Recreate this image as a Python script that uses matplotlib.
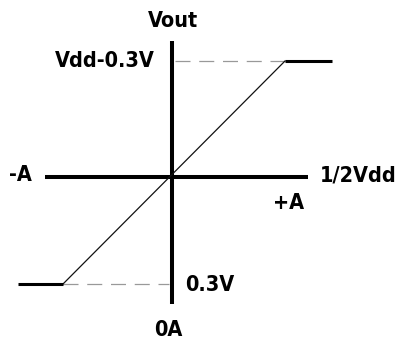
import matplotlib
matplotlib.use("Agg")
import matplotlib.pyplot as plt

# transfer curve (pixels from the origin, y up)
curve_in = [-154, -109, 113, 160]
curve_out = [-107, -107, 116, 116]

# axis extents
h_axis = [-127, 136]
v_axis = [-127, 136]

# labels: text, x, y, ha
labels = [
    ("Vout", 1, 156, "center"),
    ("Vdd-0.3V", -17, 116, "right"),
    ("-A", -140, 2, "right"),
    ("1/2Vdd", 148, 2, "left"),
    ("+A", 117, -26, "center"),
    ("0.3V", 13, -108, "left"),
    ("0A", -4, -153, "center"),
]

fig = plt.figure(figsize=(3.99, 3.42), dpi=100)
ax = fig.add_axes([0, 0, 1, 1])
ax.set_xlim(-172, 227)
ax.set_ylim(-165, 177)
ax.axis("off")

# axes
ax.plot(h_axis, [0, 0], color="black", lw=2.9, solid_capstyle="butt")
ax.plot([0, 0], v_axis, color="black", lw=2.9, solid_capstyle="butt")

# dashed guides to the saturation levels
ax.plot([3, curve_in[2]], [curve_out[2], curve_out[2]], color="#999999",
        lw=0.9, dashes=(12, 7))
ax.plot([curve_in[1], -3], [curve_out[1], curve_out[1]], color="#999999",
        lw=0.9, dashes=(12, 7))

# diagonal and plateaus
ax.plot(curve_in[1:3], curve_out[1:3], color="#111111", lw=0.9)
ax.plot(curve_in[:2], curve_out[:2], color="black", lw=2.2, solid_capstyle="butt")
ax.plot(curve_in[2:], curve_out[2:], color="black", lw=2.2, solid_capstyle="butt")

for txt, x, y, ha in labels:
    ax.text(x, y, txt, ha=ha, va="center", fontsize=15.5, fontweight="bold",
            fontstretch="condensed", family="DejaVu Sans")

fig.savefig("out.png", dpi=100)
